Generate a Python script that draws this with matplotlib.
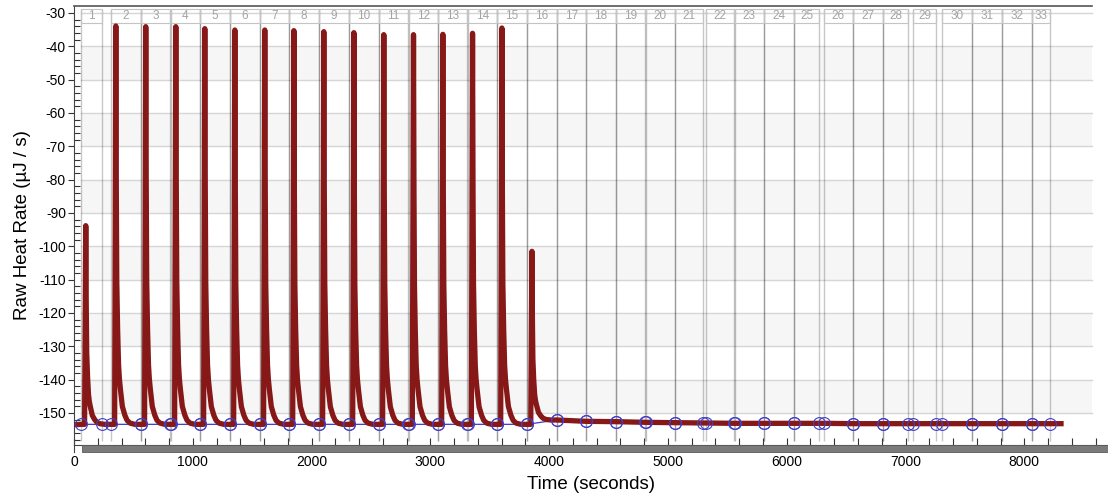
import numpy as np
import matplotlib
matplotlib.use("Agg")
import matplotlib.pyplot as plt
from matplotlib.patches import Rectangle
from matplotlib.lines import Line2D

plt.rcParams['font.family'] = ['Liberation Sans', 'DejaVu Sans']
plt.rcParams['axes.unicode_minus'] = False

# injection windows (seconds)
box_start = [59, 312, 564, 817, 1061, 1314, 1566, 1811, 2063, 2316, 2568,
             2818, 3065, 3315, 3562, 3815, 4065, 4312, 4564, 4814, 5061,
             5318, 5564, 5811, 6063, 6316, 6560, 6813, 7065, 7309, 7562,
             7815, 8067]
box_end = [236, 560, 812, 1058, 1310, 1562, 1808, 2060, 2312, 2565, 2815,
           3062, 3312, 3560, 3812, 4062, 4310, 4560, 4810, 5058, 5298,
           5560, 5805, 6060, 6274, 6555, 6808, 7021, 7256, 7558, 7810,
           8064, 8219]
# baseline (uJ/s) at the start / end of each window
base_start = [-153.4] * 16 + [-152.1, -152.5, -152.6, -152.8, -152.9, -153.0,
                              -153.1, -153.1, -153.1, -153.1, -153.2, -153.2,
                              -153.2, -153.2, -153.2, -153.2, -153.2]
base_end = base_start[1:] + [-153.2]
# peak tops of injections 1-16
peak_top = [-93.8, -33.9, -34.1, -34.1, -34.7, -35.1, -35.1, -35.3, -35.6,
            -35.9, -36.5, -36.5, -36.4, -36.1, -34.5, -101.5]
# peak profile: seconds after window start, fraction of peak height
shape_t = [0, 30, 35, 40, 44, 48, 55, 63, 70, 78, 95, 116, 135, 160, 200]
shape_f = [0, 0, 0.5, 1.0, 0.6, 0.36, 0.24, 0.15, 0.115, 0.09, 0.045, 0.023,
           0.01, 0.003, 0]
trace_t0, trace_v0 = 0, -153.5
trace_t1, trace_v1 = 8309, -153.2

ymin, ymax = -159.6, -27.9
grid_bottom = -158.4
label_lo, label_hi = -32.9, -28.8

# build raw trace from the peak table
peak_dt = shape_t[shape_f.index(1.0)]
tx, ty = [trace_t0], [trace_v0]
for i, top in enumerate(peak_top):
    b0, b1 = base_start[i], base_start[i + 1]
    for dt, f in zip(shape_t, shape_f):
        b = b0 if dt <= peak_dt else b1
        tx.append(box_start[i] + dt)
        ty.append(b + f * (top - b))
for i in range(len(peak_top), len(box_start)):
    tx.append(box_start[i])
    ty.append(base_start[i])
tx.append(trace_t1)
ty.append(trace_v1)

W, H = 1108, 496
fig = plt.figure(figsize=(W / 100, H / 100), dpi=100)
ax = fig.add_axes([74 / W, (H - 445) / H, (W - 74) / W, 439 / H])
xmax = (W - 74) / 0.118788
ax.set_xlim(0, xmax)
ax.set_ylim(ymin, ymax)

x0f = 7 / (W - 74)
x1f = (1092 - 74) / (W - 74)
for lo in range(-50, -151, -20):
    ax.axhspan(lo, lo + 10, xmin=x0f, xmax=x1f, color='#f6f6f6', lw=0,
               zorder=0)
for v in range(-30, -151, -10):
    ax.axhline(v, xmin=x0f, xmax=x1f, color='#d6d6d6', lw=1, zorder=0.5)

ax.vlines(box_start + box_end, grid_bottom, label_hi, colors='k', alpha=0.22,
          lw=1, zorder=0.6)
for i, (s, e) in enumerate(zip(box_start, box_end)):
    ax.add_patch(Rectangle((s, label_lo), e - s, label_hi - label_lo,
                           fill=False, ec='#c4c4c4', lw=0.8, zorder=0.7))
    ax.text((s + e) / 2, (label_lo + label_hi) / 2, str(i + 1), ha='center',
            va='center', fontsize=8.5, color='#a4a4a4')

# baseline + markers
bt = np.array(box_start + box_end)
bv = np.array(base_start + base_end)
order = np.argsort(bt)
ax.plot(np.r_[trace_t0, bt[order]], np.r_[base_start[0], bv[order]],
        color='#3a3ad0', lw=0.9, zorder=2)
ax.plot(tx, ty, color='#871818', lw=3.8, solid_joinstyle='round', zorder=3)
ax.plot(bt, bv, 'o', mfc='none', mec='#4040c8', ms=8.5, mew=0.8, zorder=4)

ax.set_yticks(range(-30, -151, -10))
ax.set_yticks(np.arange(-30, -160, -2), minor=True)
ax.set_xticks(range(0, 8001, 1000))
ax.set_xticks(range(0, 8701, 200), minor=True)
ax.tick_params(axis='y', which='major', direction='out', length=4.3,
               width=0.8, color='#333333', pad=1.5, labelsize=10)
ax.tick_params(axis='y', which='minor', direction='in', length=4.5,
               width=0.8, color='#333333')
ax.tick_params(axis='x', which='both', direction='in', length=5, width=0.8,
               color='#333333', pad=7, labelsize=10)

ax.spines['right'].set_visible(False)
ax.spines['top'].set_color('#555555')
ax.spines['top'].set_linewidth(1.2)
ax.spines['top'].set_bounds(0, xmax * x1f)
ax.spines['left'].set_color('#444444')
ax.spines['bottom'].set_color('#444444')

# scroll bar under the x axis
fig.add_artist(Rectangle((82 / W, (H - 452) / H), (W - 82) / W, 7 / H,
                         transform=fig.transFigure, fc='#7a7a7a',
                         ec='#5a5a5a', lw=0.6))
fig.add_artist(Line2D([74 / W, 74 / W], [(H - 452) / H, (H - 445) / H],
                      transform=fig.transFigure, color='#444444', lw=0.8))

ax.set_xlabel('Time (seconds)', fontsize=13.5)
ax.set_ylabel('Raw Heat Rate (µJ / s)', fontsize=13.5)
ax.xaxis.set_label_coords(0.5, -0.07)
ax.yaxis.set_label_coords(-0.042, 0.5)

fig.savefig('out.png', dpi=100)
